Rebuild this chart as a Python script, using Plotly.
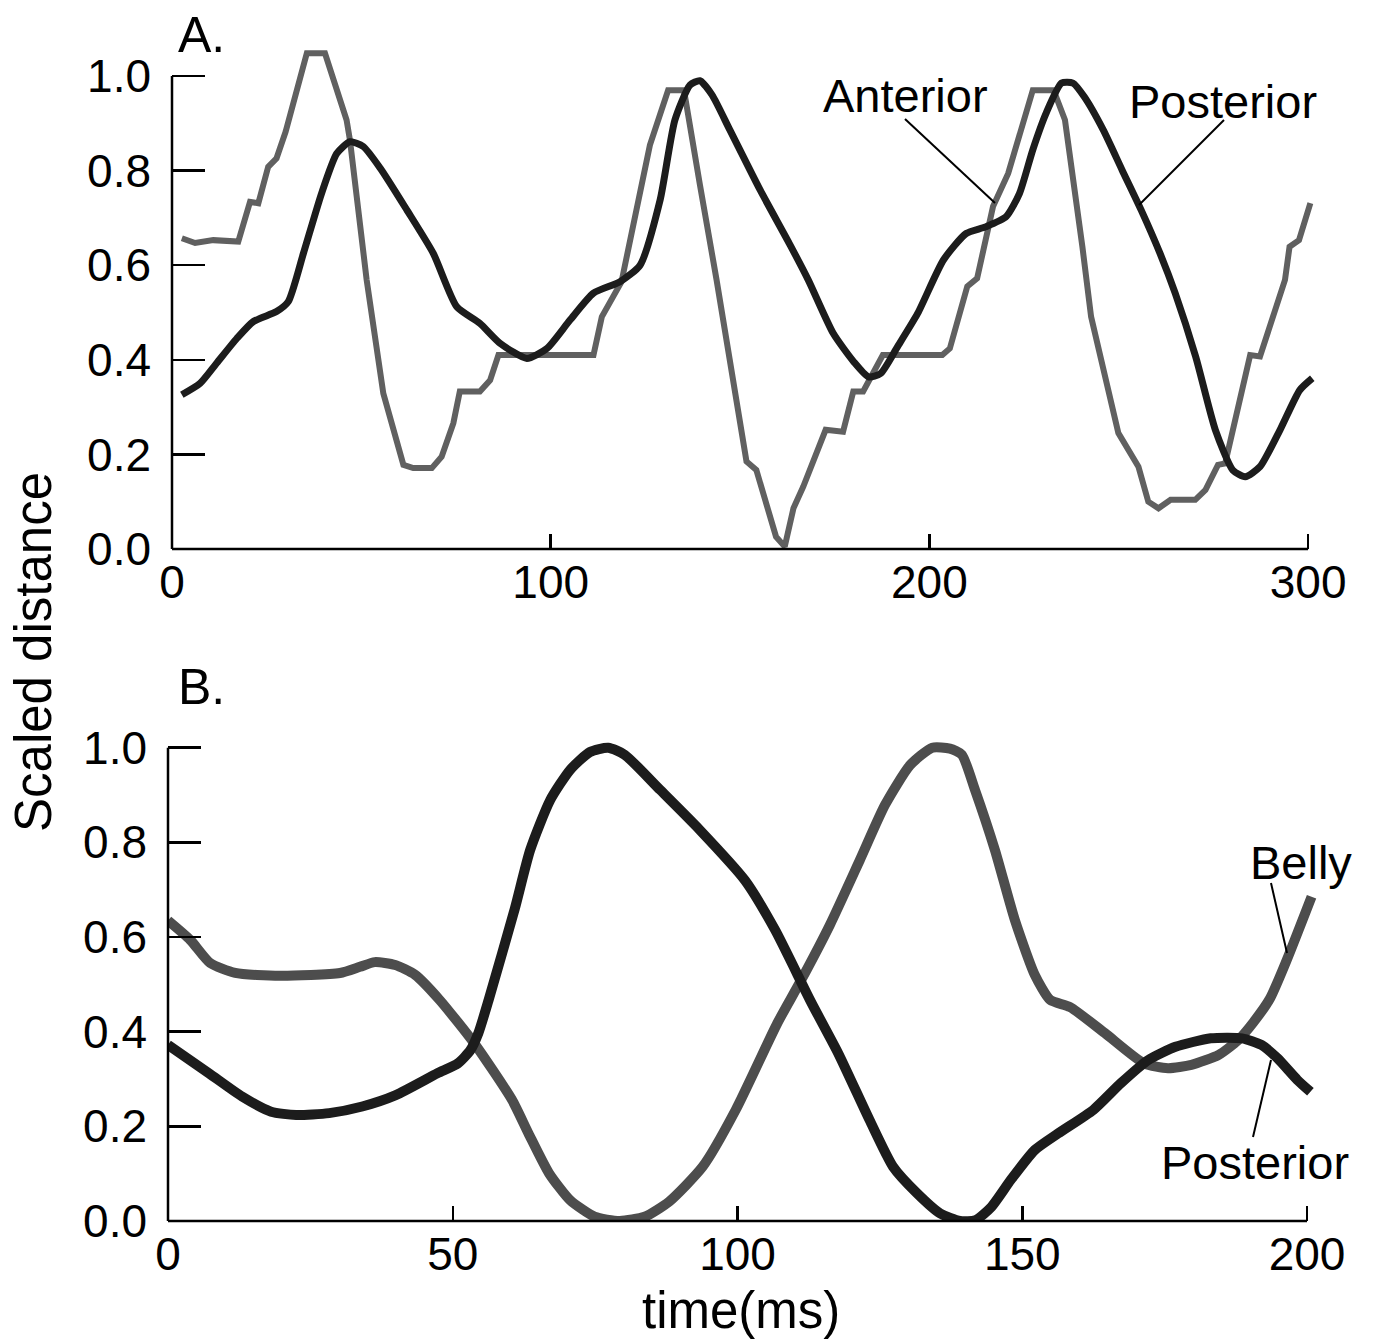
import plotly.graph_objects as go

# ---------------- data ----------------
# Panel A: time (ms) 0-300
ant_a_x = [2.6, 6.1, 10.9, 17.5, 20.6, 22.8, 25.4, 27.6, 30.0, 35.6, 40.4, 43.5, 46.1, 47.0,
           51.4, 55.8, 61.1, 63.7, 68.6, 71.2, 74.3, 76.0, 81.3, 84.0, 86.2, 111.3, 113.5,
           118.7, 126.2, 131.0, 135.2, 139.4, 143.8, 151.7, 154.3, 159.5, 161.8, 164.1,
           166.7, 172.6, 177.2, 179.9, 182.5, 187.7, 203.4, 205.4, 210.0, 212.6, 216.8,
           220.8, 227.3, 232.8, 235.8, 240.4, 242.7, 249.9, 255.2, 257.8, 260.5, 263.7,
           270.2, 272.9, 276.2, 278.1, 284.7, 287.3, 292.0, 293.9, 295.1, 297.6, 300.6]
ant_a_y = [0.657, 0.647, 0.653, 0.650, 0.734, 0.731, 0.808, 0.826, 0.882, 1.048, 1.048, 0.970,
           0.907, 0.864, 0.569, 0.329, 0.178, 0.171, 0.171, 0.195, 0.266, 0.333, 0.333, 0.357,
           0.410, 0.410, 0.491, 0.565, 0.854, 0.970, 0.970, 0.770, 0.569, 0.185, 0.167, 0.026,
           0.005, 0.086, 0.132, 0.252, 0.248, 0.333, 0.333, 0.410, 0.410, 0.424, 0.555, 0.572,
           0.724, 0.794, 0.970, 0.970, 0.907, 0.639, 0.491, 0.245, 0.174, 0.100, 0.086, 0.104,
           0.104, 0.125, 0.178, 0.181, 0.410, 0.407, 0.526, 0.569, 0.639, 0.653, 0.731]

post_a_x = [2.6, 7.4, 11.8, 17.1, 21.5, 27.6, 30.7, 34.7, 39.5, 43.5, 47.0, 50.5, 55.0, 62.0,
            69.0, 75.2, 81.3, 86.6, 93.7, 99.0, 105.1, 111.3, 118.3, 123.6, 128.9, 132.8,
            136.8, 139.4, 142.6, 147.3, 155.3, 163.2, 168.0, 174.6, 180.0, 183.9, 187.1,
            191.6, 196.9, 203.7, 209.7, 214.8, 220.3, 223.8, 227.3, 230.8, 234.9, 237.9,
            240.9, 245.9, 250.9, 255.9, 260.9, 264.9, 270.3, 275.5, 280.1, 283.4, 287.3,
            292.6, 297.8, 301.1]
post_a_y = [0.326, 0.350, 0.393, 0.445, 0.481, 0.502, 0.523, 0.625, 0.752, 0.836, 0.861, 0.851,
            0.805, 0.717, 0.625, 0.512, 0.477, 0.435, 0.403, 0.424, 0.484, 0.541, 0.565, 0.600,
            0.738, 0.907, 0.981, 0.990, 0.960, 0.886, 0.759, 0.643, 0.569, 0.456, 0.396, 0.364,
            0.371, 0.428, 0.498, 0.611, 0.667, 0.681, 0.703, 0.752, 0.844, 0.921, 0.985, 0.985,
            0.956, 0.886, 0.801, 0.717, 0.625, 0.541, 0.407, 0.252, 0.167, 0.153, 0.174, 0.252,
            0.336, 0.361]

# Panel B: time (ms) 0-200
belly_b_x = [0.0, 3.9, 7.4, 11.8, 19.7, 30.2, 33.7, 36.3, 39.9, 43.4, 47.7, 53.8, 60.4, 63.3,
             66.9, 70.6, 74.9, 79.3, 83.7, 88.0, 93.9, 99.7, 107.0, 111.0, 116.2, 121.5, 125.9,
             130.3, 134.2, 137.3, 139.4, 141.7, 145.2, 148.7, 152.2, 154.9, 158.4, 164.5,
             171.4, 175.6, 179.7, 184.5, 187.9, 190.6, 193.5, 196.4, 200.8]
belly_b_y = [0.635, 0.594, 0.545, 0.524, 0.518, 0.524, 0.537, 0.547, 0.541, 0.520, 0.467, 0.375,
             0.256, 0.185, 0.101, 0.044, 0.009, 0.000, 0.009, 0.041, 0.115, 0.235, 0.418, 0.505,
             0.625, 0.763, 0.879, 0.963, 1.000, 0.998, 0.985, 0.911, 0.784, 0.636, 0.520, 0.467,
             0.452, 0.397, 0.333, 0.323, 0.330, 0.351, 0.382, 0.420, 0.470, 0.550, 0.685]

post_b_x = [0.0, 7.2, 13.0, 18.1, 22.5, 28.3, 34.1, 40.0, 47.3, 50.9, 53.1, 54.5, 56.3, 60.9,
            63.6, 67.1, 70.6, 74.1, 77.3, 80.2, 86.4, 93.4, 101.3, 106.6, 112.9, 117.7, 123.2,
            127.3, 131.5, 135.6, 139.1, 141.8, 144.6, 148.0, 152.2, 156.3, 162.5, 167.3, 172.1,
            176.9, 183.1, 188.6, 192.0, 194.8, 198.3, 200.6]
post_b_y = [0.372, 0.312, 0.263, 0.231, 0.224, 0.228, 0.242, 0.266, 0.312, 0.333, 0.361, 0.397,
            0.467, 0.660, 0.784, 0.889, 0.953, 0.991, 1.000, 0.985, 0.911, 0.826, 0.720, 0.615,
            0.463, 0.354, 0.213, 0.115, 0.059, 0.016, 0.000, 0.002, 0.030, 0.087, 0.150, 0.185,
            0.235, 0.291, 0.340, 0.368, 0.386, 0.386, 0.372, 0.344, 0.298, 0.273]

ticks_a_x = [0, 100, 200, 300]
ticks_b_x = [0, 50, 100, 150, 200]
ticks_y = [0.0, 0.2, 0.4, 0.6, 0.8, 1.0]

# ---------------- layout geometry (pixels) ----------------
W, H = 1376, 1342
def fx(px):
    return px / W
def fy(py):
    return 1 - py / H

FONT = "Liberation Sans, Arial, Helvetica, sans-serif"

# panel A
A_X0, A_PXU = 172, 3.787       # px of x=0, px per ms
A_XMAX = 303
A_Y0, A_PYU = 549, 473         # px of y=0, px per unit
A_YMAX = 1.07
# panel B
B_X0, B_PXU = 168, 5.695
B_XMAX = 203
B_Y0, B_PYU = 1221, 473.3
B_YMAX = 1.04

fig = go.Figure()

GRAY_A = "#606060"
BLACK = "#1c1c1c"
GRAY_B = "#4d4d4d"

fig.add_trace(go.Scatter(x=ant_a_x, y=ant_a_y, mode="lines", xaxis="x", yaxis="y",
                         line=dict(color=GRAY_A, width=6), showlegend=False))
fig.add_trace(go.Scatter(x=post_a_x, y=post_a_y, mode="lines", xaxis="x", yaxis="y",
                         line=dict(color=BLACK, width=7, shape="spline", smoothing=0.6),
                         showlegend=False))
fig.add_trace(go.Scatter(x=belly_b_x, y=belly_b_y, mode="lines", xaxis="x2", yaxis="y2",
                         line=dict(color=GRAY_B, width=10, shape="spline", smoothing=0.6),
                         showlegend=False))
fig.add_trace(go.Scatter(x=post_b_x, y=post_b_y, mode="lines", xaxis="x2", yaxis="y2",
                         line=dict(color=BLACK, width=10, shape="spline", smoothing=0.6),
                         showlegend=False))

tickfont = dict(family=FONT, size=46, color="black")

xcommon = dict(showgrid=False, zeroline=False, showline=False, ticks="inside", ticklen=15,
               tickwidth=2.5, tickcolor="black", tickfont=tickfont, fixedrange=True,
               automargin=False, ticklabelstandoff=2)
ycommon = dict(showgrid=False, zeroline=False, showline=False, ticks="inside", ticklen=33,
               tickwidth=2.5, tickcolor="black", tickfont=tickfont, tickvals=ticks_y,
               tickformat=".1f", fixedrange=True, automargin=False, ticklabelstandoff=20)

fig.update_layout(
    width=W, height=H,
    margin=dict(l=0, r=0, t=0, b=0, autoexpand=False),
    paper_bgcolor="white", plot_bgcolor="white",
    xaxis=dict(**xcommon, range=[0, A_XMAX], tickvals=ticks_a_x, anchor="y",
               domain=[fx(A_X0), fx(A_X0 + A_XMAX * A_PXU)]),
    yaxis=dict(**ycommon, range=[0, A_YMAX], anchor="x",
               domain=[fy(A_Y0), fy(A_Y0 - A_YMAX * A_PYU)]),
    xaxis2=dict(**xcommon, range=[0, B_XMAX], tickvals=ticks_b_x, anchor="y2",
                domain=[fx(B_X0), fx(B_X0 + B_XMAX * B_PXU)]),
    yaxis2=dict(**ycommon, range=[0, B_YMAX], anchor="x2",
                domain=[fy(B_Y0), fy(B_Y0 - B_YMAX * B_PYU)]),
)

shapes = []
# axis lines (drawn as shapes so they stop at the last tick)
for xa, ya, xmax_t, xmax_r, ymax_r in [("x", "y", 300, A_XMAX, A_YMAX),
                                        ("x2", "y2", 200, B_XMAX, B_YMAX)]:
    shapes.append(dict(type="line", xref=f"{xa} domain", yref=f"{ya} domain",
                       x0=0, x1=xmax_t / xmax_r, y0=0, y1=0,
                       line=dict(color="black", width=2.5)))
    shapes.append(dict(type="line", xref=f"{xa} domain", yref=f"{ya} domain",
                       x0=0, x1=0, y0=0, y1=1.0 / ymax_r,
                       line=dict(color="black", width=2.5)))

# leader lines for labels
def leader(p0, p1):
    return dict(type="line", xref="paper", yref="paper",
                x0=fx(p0[0]), y0=fy(p0[1]), x1=fx(p1[0]), y1=fy(p1[1]),
                line=dict(color="black", width=2))

shapes.append(leader((905, 119), (995, 203)))     # Anterior
shapes.append(leader((1224, 120), (1139, 205)))   # Posterior (A)
shapes.append(leader((1271, 883), (1287, 953)))   # Belly
shapes.append(leader((1253, 1137), (1271, 1060))) # Posterior (B)
fig.update_layout(shapes=shapes)

def label(text, px, py, size=47, xanchor="center", angle=0):
    return dict(text=text, xref="paper", yref="paper", x=fx(px), y=fy(py),
                xanchor=xanchor, yanchor="middle", showarrow=False, textangle=angle,
                font=dict(family=FONT, size=size, color="black"))

annotations = [
    label("A.", 176, 35, size=50, xanchor="left"),
    label("B.", 176, 687, size=50, xanchor="left"),
    label("Anterior", 906, 96),
    label("Posterior", 1223, 101),
    label("Belly", 1301, 862),
    label("Posterior", 1255, 1162),
    label("time(ms)", 741, 1310, size=51),
    label("Scaled distance", 33, 652, size=51, angle=-90),
]
fig.update_layout(annotations=annotations)

fig.write_html("out.html", config={"displayModeBar": False, "staticPlot": True},
               post_script="document.body.style.margin='0';document.body.style.overflow='hidden';")
